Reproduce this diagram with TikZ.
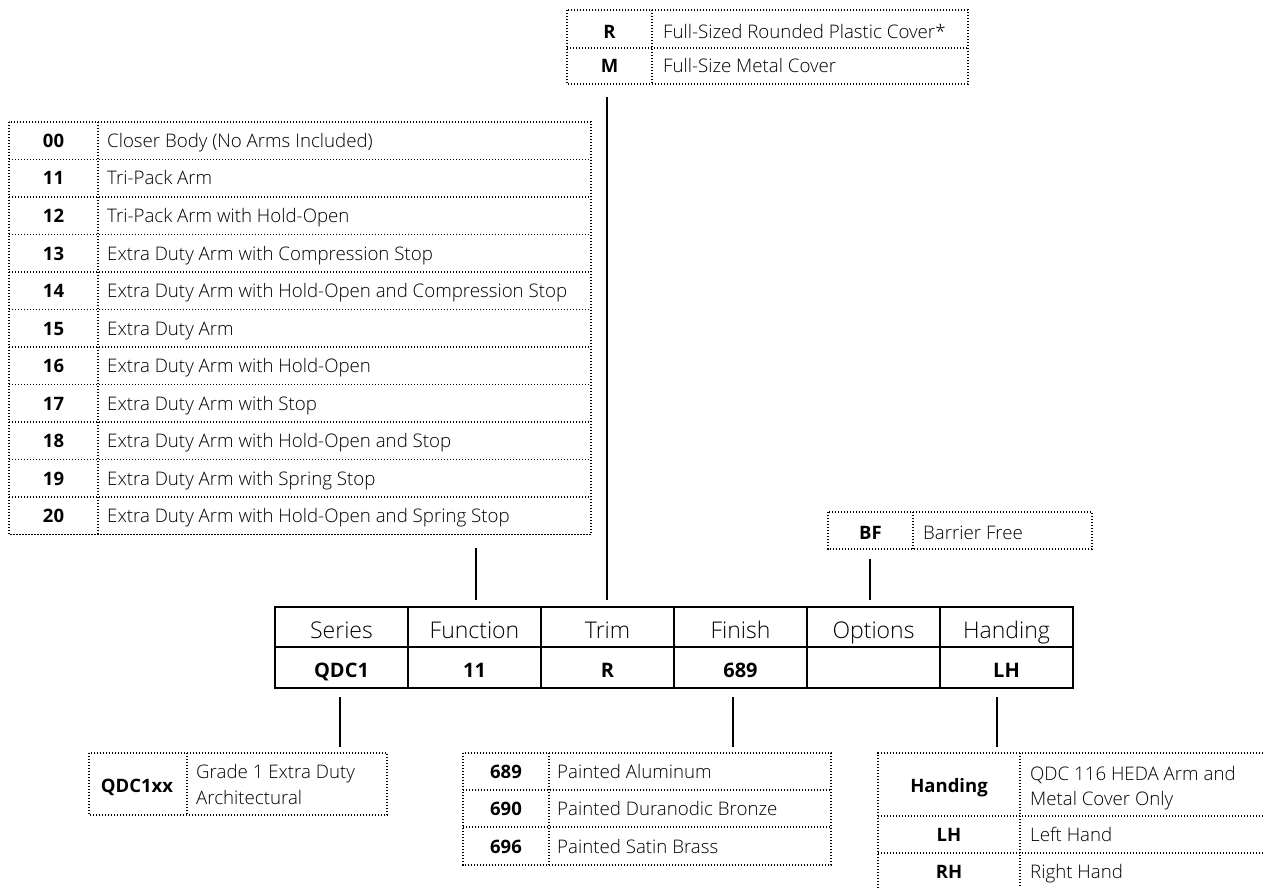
\documentclass[tikz,border=0pt]{standalone}
\usepackage{fontspec}
\setmainfont{Open Sans}[UprightFont={* Light},BoldFont={* Bold}]
\begin{document}
\begin{tikzpicture}[x=1pt,y=-1pt,
  dotline/.style={line width=1.2pt,dash pattern=on 1.1pt off 1.9pt,draw=black},
  conn/.style={line width=1.4pt,draw=black},
  codetxt/.style={font=\fontsize{18.5}{20}\selectfont\bfseries,inner sep=0pt,anchor=base},
  desctxt/.style={font=\fontsize{18.7}{22}\selectfont,inner sep=0pt,anchor=base west},
  hcell/.style={draw=black,line width=1.4pt,minimum width=133pt,minimum height=40pt,inner sep=0pt,
     font=\fontsize{23}{26}\selectfont,text height=26pt,text depth=4pt},
  vcell/.style={draw=black,line width=1.4pt,minimum width=133pt,minimum height=41pt,inner sep=0pt,
     font=\fontsize{20}{22}\selectfont\bfseries,text height=24pt,text depth=4pt}]
\useasboundingbox (0,0) rectangle (1264,888);

% ---------- Trim table (top) ----------
\draw[dotline] (567,10) rectangle (968,84);
\draw[dotline] (567,48) -- (968,48);
\draw[dotline] (652,10) -- (652,84);
\node[codetxt] (trimR) at (609.5,38.5) {R};
\node[desctxt] (trimRd) at (663,38.5) {Full-Sized Rounded Plastic Cover*};
\node[codetxt] (trimM) at (609.5,73) {M};
\node[desctxt] (trimMd) at (663,73) {Full-Size Metal Cover};

% ---------- Function table (left) ----------
\draw[dotline] (9,122) rectangle (591,534.5);
\draw[dotline] (98,122) -- (98,534.5);
\foreach \i in {1,...,10}{\draw[dotline] (9,122+37.5*\i) -- (591,122+37.5*\i);}
\foreach \c/\d [count=\i from 0] in {
  00/Closer Body (No Arms Included),
  11/Tri-Pack Arm,
  12/Tri-Pack Arm with Hold-Open,
  13/Extra Duty Arm with Compression Stop,
  14/Extra Duty Arm with Hold-Open and Compression Stop,
  15/Extra Duty Arm,
  16/Extra Duty Arm with Hold-Open,
  17/Extra Duty Arm with Stop,
  18/Extra Duty Arm with Hold-Open and Stop,
  19/Extra Duty Arm with Spring Stop,
  20/Extra Duty Arm with Hold-Open and Spring Stop}{
  \node[codetxt] (fn\c) at (53.5,147.5+37.5*\i) {\c};
  \node[desctxt] (fn\c d) at (107,147.5+37.5*\i) {\d};
}

% ---------- Options table ----------
\draw[dotline] (828,512) rectangle (1092,549);
\draw[dotline] (913,512) -- (913,549);
\node[codetxt] (optBF) at (870.5,539) {BF};
\node[desctxt] (optBFd) at (923,539) {Barrier Free};

% ---------- Main table ----------
\foreach \n/\t [count=\i from 0] in {Series/Series,Function/Function,Trim/Trim,Finish/Finish,Options/Options,Handing/Handing}{
  \node[hcell] (h\n) at (341.5+133*\i,627) {\t};
}
\node[vcell] (vSeries)   at (341.5,667.5) {QDC1};
\node[vcell] (vFunction) at (474.5,667.5) {11};
\node[vcell] (vTrim)     at (607.5,667.5) {R};
\node[vcell] (vFinish)   at (740.5,667.5) {689};
\node[vcell] (vOptions)  at (873.5,667.5) {};
\node[vcell] (vHanding)  at (1006.5,667.5) {LH};

% ---------- Series table ----------
\draw[dotline] (89,753) rectangle (387,815);
\draw[dotline] (187,753) -- (187,815);
\node[codetxt] (serQ) at (137,792) {QDC1xx};
\node[desctxt] (serQd) at (196,778.5) {Grade 1 Extra Duty};
\node[desctxt] (serQd2) at (196,804) {Architectural};

% ---------- Finish table ----------
\draw[dotline] (463,753) rectangle (831,865);
\draw[dotline] (463,790) -- (831,790);
\draw[dotline] (463,827) -- (831,827);
\draw[dotline] (549,753) -- (549,865);
\foreach \c/\d/\y in {689/Painted Aluminum/778.5,690/Painted Duranodic Bronze/815.5,696/Painted Satin Brass/853}{
  \node[codetxt] (fin\c) at (506,\y) {\c};
  \node[desctxt] (fin\c d) at (557,\y) {\d};
}

% ---------- Handing table ----------
\draw[dotline] (1272,753) -- (878,753) -- (878,892);
\draw[dotline] (878,816) -- (1272,816);
\draw[dotline] (878,853) -- (1272,853);
\draw[dotline] (1020,753) -- (1020,892);
\node[codetxt] (hdH) at (949,792) {Handing};
\node[desctxt] (hdHd) at (1030,780) {QDC 116 HEDA Arm and};
\node[desctxt] (hdHd2) at (1030,805.5) {Metal Cover Only};
\node[codetxt] (hdLH) at (949,841.5) {LH};
\node[desctxt] (hdLHd) at (1030,841.5) {Left Hand};
\node[codetxt] (hdRH) at (949,878.5) {RH};
\node[desctxt] (hdRHd) at (1030,878.5) {Right Hand};

% ---------- Connectors ----------
\coordinate (trimA) at (607,97);   \coordinate (trimB) at (607,600);
\coordinate (funA)  at (476,548);  \coordinate (funB)  at (476,600);
\coordinate (optA)  at (870,559);  \coordinate (optB)  at (870,600);
\coordinate (serA)  at (340,697);  \coordinate (serB)  at (340,747);
\coordinate (finA)  at (733,697);  \coordinate (finB)  at (733,747);
\coordinate (hndA)  at (997,697);  \coordinate (hndB)  at (997,747);
\draw[conn] (trimA) -- (trimB);
\draw[conn] (funA) -- (funB);
\draw[conn] (optA) -- (optB);
\draw[conn] (serA) -- (serB);
\draw[conn] (finA) -- (finB);
\draw[conn] (hndA) -- (hndB);
\end{tikzpicture}
\end{document}
